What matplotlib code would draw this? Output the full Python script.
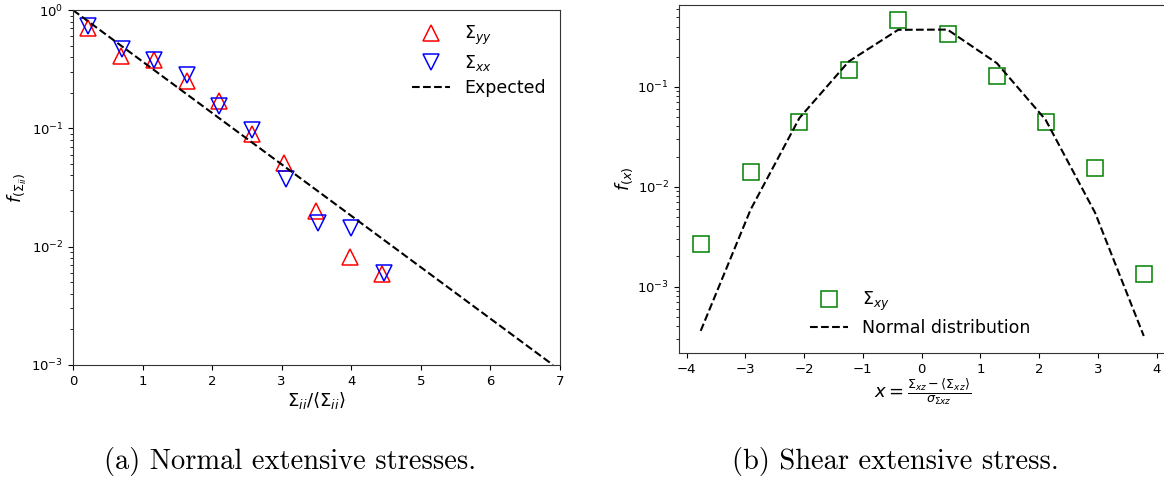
import numpy as np
import matplotlib
matplotlib.use('Agg')
import matplotlib.pyplot as plt

# ------------------------------------------------------------------
# Data
# ------------------------------------------------------------------
# (a) normal extensive stresses
syy_x = [0.22, 0.69, 1.17, 1.64, 2.10, 2.57, 3.03, 3.50, 3.98, 4.44]
syy_f = [0.70, 0.41, 0.38, 0.25, 0.17, 0.0895, 0.051, 0.020, 0.0082, 0.0059]
sxx_x = [0.22, 0.70, 1.17, 1.64, 2.10, 2.58, 3.06, 3.52, 4.00, 4.47]
sxx_f = [0.73, 0.47, 0.38, 0.28, 0.155, 0.096, 0.037, 0.0158, 0.0144, 0.0060]
expected_x = [0.0, 6.9]
expected_f = [1.0, 1.0e-3]

# (b) shear extensive stress
sxy_x = [-3.76, -2.91, -2.08, -1.24, -0.40, 0.44, 1.28, 2.11, 2.95, 3.78]
sxy_f = [0.00267, 0.0139, 0.0447, 0.147, 0.46, 0.336, 0.129, 0.044, 0.0152, 0.00132]
normal_f = [3.6e-4, 5.9e-3, 0.0486, 0.179, 0.371, 0.373, 0.172, 0.0466, 0.0055, 3.2e-4]

plt.rcParams['mathtext.fontset'] = 'dejavusans'

fig = plt.figure(figsize=(11.64, 4.82), dpi=100)

# ------------------------------------------------------------------
# (a)
# ------------------------------------------------------------------
ax1 = fig.add_axes([0.0627, 0.243, 0.4183, 0.736])
ax1.semilogy(syy_x, syy_f, '^', mfc='none', mec='red', ms=12, mew=1.1,
             ls='none', label=r'$\Sigma_{yy}$')
ax1.semilogy(sxx_x, sxx_f, 'v', mfc='none', mec='blue', ms=12, mew=1.1,
             ls='none', label=r'$\Sigma_{xx}$')
ax1.semilogy(expected_x, expected_f, 'k--', lw=1.5, label='Expected')
ax1.set_xlim(0, 7)
ax1.set_ylim(1e-3, 1)
ax1.set_xticks(range(8))
ax1.set_xlabel(r'$\Sigma_{ii}/\langle\Sigma_{ii}\rangle$', fontsize=13, labelpad=2)
ax1.set_ylabel(r'$f_{(\Sigma_{ii})}$', fontsize=13, labelpad=2)
ax1.tick_params(labelsize=9.5)
ax1.legend(loc='upper right', frameon=False, fontsize=12.5, handlelength=2.2,
           borderaxespad=0.4, labelspacing=0.35)

# ------------------------------------------------------------------
# (b)
# ------------------------------------------------------------------
ax2 = fig.add_axes([0.5833, 0.268, 0.418, 0.722])
ax2.semilogy(sxy_x, sxy_f, 's', mfc='none', mec='green', ms=11, mew=1.1,
             ls='none', label=r'$\Sigma_{xy}$')
ax2.semilogy(sxy_x, normal_f, 'k--', lw=1.5, label='Normal distribution')
ax2.set_xlim(-4.13, 4.15)
ax2.set_ylim(2.17e-4, 0.66)
ax2.set_xticks(range(-4, 5))
ax2.set_xlabel(r'$x = \frac{\Sigma_{xz} - \langle\Sigma_{xz}\rangle}{\sigma_{\Sigma xz}}$',
               fontsize=13, labelpad=1)
ax2.set_ylabel(r'$f_{(x)}$', fontsize=13, labelpad=2)
ax2.tick_params(labelsize=9.5)
ax2.legend(loc='lower center', bbox_to_anchor=(0.496, 0.0), frameon=False,
           fontsize=12.5, handlelength=2.2, labelspacing=0.35)

for ax in (ax1, ax2):
    for s in ax.spines.values():
        s.set_color('#333333')

# captions
fig.text(0.249, 0.027, '(a) Normal extensive stresses.', fontsize=20.5,
         family='cmr10', ha='center', va='baseline')
fig.text(0.769, 0.027, '(b) Shear extensive stress.', fontsize=20.5,
         family='cmr10', ha='center', va='baseline')

fig.savefig('out.png', dpi=100)
